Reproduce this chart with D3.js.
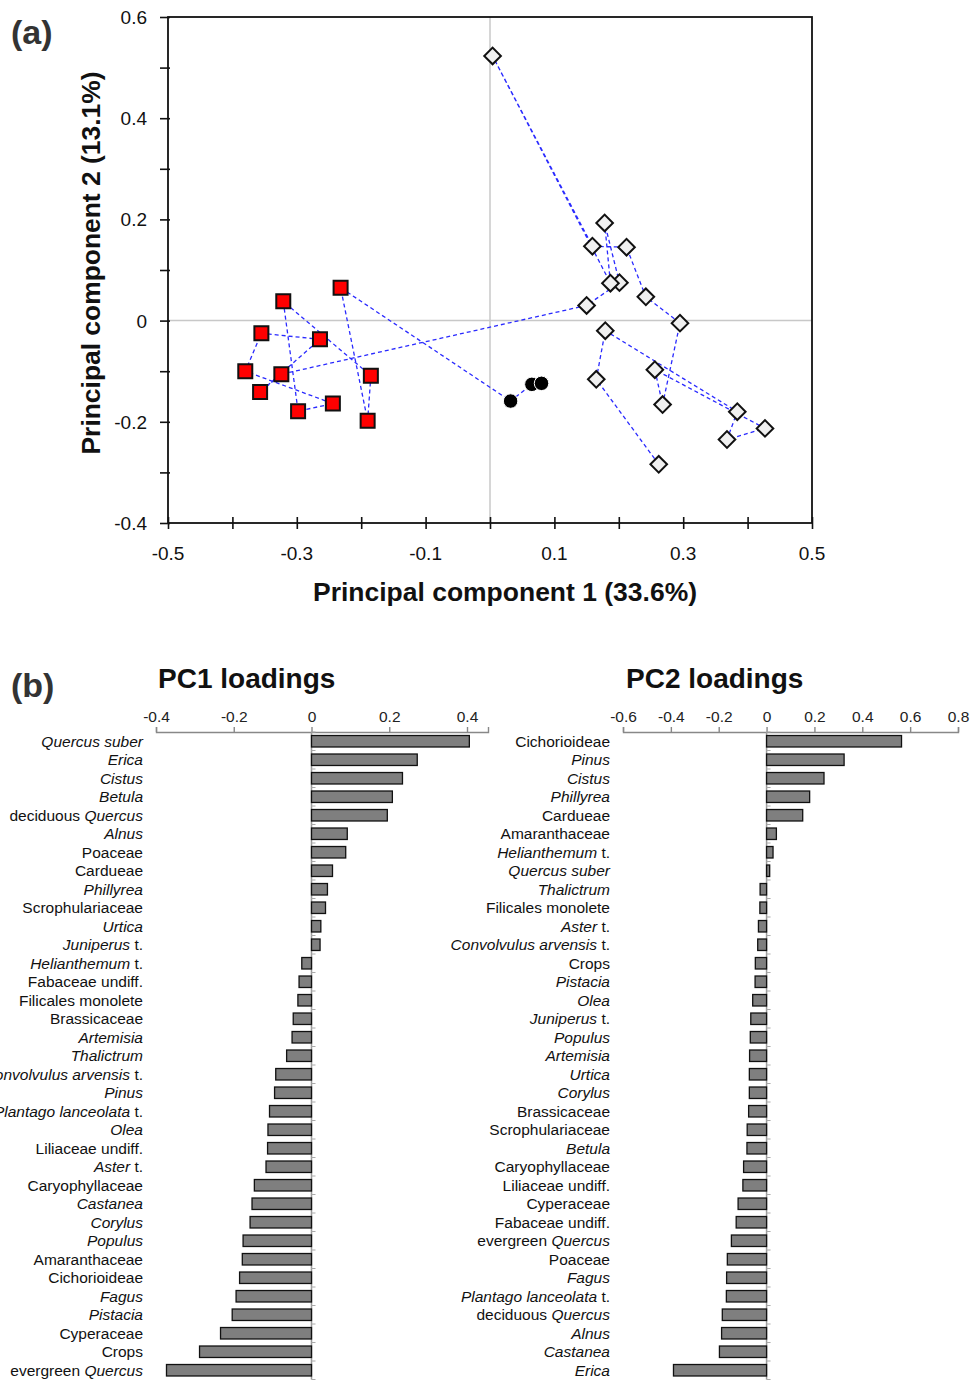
<!DOCTYPE html>
<html>
<head>
<meta charset="utf-8">
<script src="https://cdn.jsdelivr.net/npm/d3@7"></script>
<style>
body { margin: 0; background: #fff; }
svg { display: block; font-family: "Liberation Sans", Arial, sans-serif; }
text { white-space: pre; }
</style>
</head>
<body>
<svg id="chart" width="972" height="1381"></svg>
<script>

// ---- (a) PCA sample scores, in sequence (the dashed line joins consecutive samples)
var sampleGroup = ["diamond","diamond","diamond","diamond","diamond","diamond","diamond","diamond","diamond",
    "diamond","diamond","diamond","diamond","diamond","diamond","diamond","diamond",
    "square","square","square","square","square","square","square","square","square","square","square",
    "circle","circle","circle"];
var pc1Score = [0.262, 0.165, 0.179, 0.384, 0.368, 0.427, 0.256, 0.268, 0.295,
    0.242, 0.212, 0.159, 0.004, 0.187, 0.178, 0.201, 0.150,
    -0.324, -0.357, -0.264, -0.355, -0.380, -0.244, -0.298, -0.321, -0.185, -0.190, -0.232,
    0.032, 0.065, 0.080];
var pc2Score = [-0.284, -0.116, -0.020, -0.180, -0.235, -0.213, -0.097, -0.166, -0.005,
    0.047, 0.145, 0.147, 0.523, 0.074, 0.193, 0.075, 0.030,
    -0.106, -0.141, -0.037, -0.025, -0.100, -0.164, -0.179, 0.038, -0.109, -0.198, 0.065,
    -0.159, -0.126, -0.124];

var xTicksA = [-0.5, -0.3, -0.1, 0.1, 0.3, 0.5];
var yTicksA = [-0.4, -0.2, 0, 0.2, 0.4, 0.6];

// ---- (b) loadings (underscores mark the italic part of a name)
var pc1Taxa = ["_Quercus suber_", "_Erica_", "_Cistus_", "_Betula_", "deciduous _Quercus_", "_Alnus_",
    "Poaceae", "Cardueae", "_Phillyrea_", "Scrophulariaceae", "_Urtica_", "_Juniperus_ t.",
    "_Helianthemum_ t.", "Fabaceae undiff.", "Filicales monolete", "Brassicaceae", "_Artemisia_",
    "_Thalictrum_", "_Convolvulus arvensis_ t.", "_Pinus_", "_Plantago lanceolata_ t.", "_Olea_",
    "Liliaceae undiff.", "_Aster_ t.", "Caryophyllaceae", "_Castanea_", "_Corylus_", "_Populus_",
    "Amaranthaceae", "Cichorioideae", "_Fagus_", "_Pistacia_", "Cyperaceae", "Crops", "evergreen _Quercus_"];
var pc1Loading = [0.406, 0.272, 0.234, 0.208, 0.195, 0.092, 0.088, 0.054, 0.041, 0.036, 0.024, 0.022,
    -0.025, -0.032, -0.035, -0.047, -0.050, -0.064, -0.092, -0.095, -0.108, -0.112, -0.113, -0.117,
    -0.147, -0.153, -0.158, -0.176, -0.178, -0.185, -0.194, -0.204, -0.234, -0.288, -0.373];

var pc2Taxa = ["Cichorioideae", "_Pinus_", "_Cistus_", "_Phillyrea_", "Cardueae", "Amaranthaceae",
    "_Helianthemum_ t.", "_Quercus suber_", "_Thalictrum_", "Filicales monolete", "_Aster_ t.",
    "_Convolvulus arvensis_ t.", "Crops", "_Pistacia_", "_Olea_", "_Juniperus_ t.", "_Populus_",
    "_Artemisia_", "_Urtica_", "_Corylus_", "Brassicaceae", "Scrophulariaceae", "_Betula_",
    "Caryophyllaceae", "Liliaceae undiff.", "Cyperaceae", "Fabaceae undiff.", "evergreen _Quercus_",
    "Poaceae", "_Fagus_", "_Plantago lanceolata_ t.", "deciduous _Quercus_", "_Alnus_", "_Castanea_", "_Erica_"];
var pc2Loading = [0.564, 0.324, 0.240, 0.180, 0.151, 0.041, 0.027, 0.013, -0.027, -0.028, -0.034,
    -0.037, -0.047, -0.048, -0.058, -0.066, -0.068, -0.071, -0.072, -0.072, -0.075, -0.081, -0.082,
    -0.096, -0.099, -0.119, -0.127, -0.147, -0.164, -0.167, -0.168, -0.185, -0.188, -0.197, -0.389];

var pc1Ticks = [-0.4, -0.2, 0, 0.2, 0.4];
var pc2Ticks = [-0.6, -0.4, -0.2, 0, 0.2, 0.4, 0.6, 0.8];

var svg = d3.select("#chart");
var fmt = function(d) { return d === 0 ? "0" : String(+d.toFixed(1)); };

/* ------------------------- panel (a) ------------------------- */
var frame = {left: 168, right: 812, top: 17, bottom: 523};
var x = d3.scaleLinear().domain([-0.5, 0.5]).range([frame.left, frame.right]);
var y = d3.scaleLinear().domain([-0.4, 0.6]).range([frame.bottom, frame.top]);

svg.append("text").attr("x", 11).attr("y", 44)
    .attr("font-size", 34).attr("font-weight", "bold").attr("fill", "#333").text("(a)");

// zero reference lines
svg.append("line").attr("x1", x(0)).attr("x2", x(0)).attr("y1", frame.top).attr("y2", frame.bottom)
    .attr("stroke", "#c8c8c8").attr("stroke-width", 1.5);
svg.append("line").attr("x1", frame.left).attr("x2", frame.right).attr("y1", y(0)).attr("y2", y(0))
    .attr("stroke", "#c8c8c8").attr("stroke-width", 1.5);

// frame
svg.append("rect").attr("x", frame.left).attr("y", frame.top)
    .attr("width", frame.right - frame.left).attr("height", frame.bottom - frame.top)
    .attr("fill", "none").attr("stroke", "#111").attr("stroke-width", 1.8);

// ticks every 0.1, crossing the axis lines
var bottomAxis = d3.axisBottom(x).tickValues(d3.range(-5, 6).map(function(d) { return d / 10; }))
    .tickSize(5).tickFormat("");
var gx = svg.append("g").attr("transform", "translate(0," + frame.bottom + ")").call(bottomAxis);
gx.select(".domain").remove();
gx.selectAll(".tick line").attr("y1", -6).attr("y2", 6).attr("stroke", "#111").attr("stroke-width", 1.6);

var leftAxis = d3.axisLeft(y).tickValues(d3.range(-4, 7).map(function(d) { return d / 10; }))
    .tickSize(8).tickFormat("");
var gy = svg.append("g").attr("transform", "translate(" + frame.left + ",0)").call(leftAxis);
gy.select(".domain").remove();
gy.selectAll(".tick line").attr("x1", -8).attr("x2", 2).attr("stroke", "#111").attr("stroke-width", 1.6);

svg.append("g").selectAll("text").data(xTicksA).enter().append("text")
    .attr("x", function(d) { return x(d); }).attr("y", 560)
    .attr("text-anchor", "middle").attr("font-size", 19).attr("fill", "#111").text(fmt);
svg.append("g").selectAll("text").data(yTicksA).enter().append("text")
    .attr("x", 147).attr("y", function(d) { return y(d) + 7; })
    .attr("text-anchor", "end").attr("font-size", 19).attr("fill", "#111").text(fmt);

svg.append("text").attr("x", 505).attr("y", 601).attr("text-anchor", "middle")
    .attr("font-size", 25).attr("font-weight", "bold").attr("fill", "#111")
    .attr("textLength", 384).attr("lengthAdjust", "spacingAndGlyphs")
    .text("Principal component 1 (33.6%)");
svg.append("text").attr("transform", "translate(100,263) rotate(-90)").attr("text-anchor", "middle")
    .attr("font-size", 25).attr("font-weight", "bold").attr("fill", "#111")
    .attr("textLength", 383).attr("lengthAdjust", "spacingAndGlyphs")
    .text("Principal component 2 (13.1%)");

// trajectory
var idx = d3.range(pc1Score.length);
svg.append("path")
    .datum(idx)
    .attr("d", d3.line().x(function(i) { return x(pc1Score[i]); }).y(function(i) { return y(pc2Score[i]); }))
    .attr("fill", "none").attr("stroke", "#2a2aff").attr("stroke-width", 1.3)
    .attr("stroke-dasharray", "4,3");

// markers (the two overlapping diamonds near (0.19, 0.075) are drawn left one on top)
var drawOrder = idx.slice();
drawOrder.splice(drawOrder.indexOf(13), 1);
drawOrder.splice(drawOrder.indexOf(15) + 1, 0, 13);

var markerSymbol = {
    square: d3.symbol().type(d3.symbolSquare).size(196)(),
    diamond: d3.symbol().type(d3.symbolSquare).size(138)(),
    circle: d3.symbol().type(d3.symbolCircle).size(165)()
};
svg.append("g").selectAll("path").data(drawOrder).enter().append("path")
    .attr("d", function(i) { return markerSymbol[sampleGroup[i]]; })
    .attr("transform", function(i) {
        var t = "translate(" + x(pc1Score[i]) + "," + y(pc2Score[i]) + ")";
        return sampleGroup[i] === "diamond" ? t + " rotate(45)" : t;
    })
    .attr("fill", function(i) {
        return sampleGroup[i] === "square" ? "#ff0000" : sampleGroup[i] === "diamond" ? "#f0f0f0" : "#000";
    })
    .attr("stroke", function(i) { return sampleGroup[i] === "circle" ? "#fff" : "#111"; })
    .attr("stroke-width", function(i) { return sampleGroup[i] === "circle" ? 1 : 2; });

/* ------------------------- panel (b) ------------------------- */
svg.append("text").attr("x", 11).attr("y", 697)
    .attr("font-size", 34).attr("font-weight", "bold").attr("fill", "#333").text("(b)");

function addLabel(sel, label) {
    label.split("_").forEach(function(part, i) {
        if (part) sel.append("tspan").style("font-style", i % 2 ? "italic" : "normal").text(part);
    });
}

function loadingChart(opts) {
    var g = svg.append("g");
    var bx = d3.scaleLinear().domain(opts.domain).range(opts.range);
    var by = d3.scaleBand().domain(opts.taxa).range([732, 732 + 18.5 * opts.taxa.length])
        .paddingInner(0.38).paddingOuter(0.19);

    g.append("text").attr("x", opts.titleX).attr("y", 688)
        .attr("font-size", 28).attr("font-weight", "bold").attr("fill", "#111").text(opts.title);

    // value axis on top
    var top = g.append("g").attr("transform", "translate(0,732)")
        .call(d3.axisTop(bx).tickValues(opts.ticks).tickSize(5).tickPadding(5).tickFormat(fmt));
    top.select(".domain").attr("stroke", "#888").attr("stroke-width", 1.4);
    top.selectAll(".tick line").attr("stroke", "#888").attr("stroke-width", 1.4);
    top.selectAll(".tick text").attr("font-size", 15.5).attr("fill", "#222")
        .attr("font-family", "Liberation Sans, Arial, sans-serif");

    // zero line with small category ticks
    var y0 = by.range()[0], y1 = by.range()[1];
    g.append("line").attr("x1", bx(0)).attr("x2", bx(0)).attr("y1", y0).attr("y2", y1)
        .attr("stroke", "#999").attr("stroke-width", 1.5);
    g.selectAll(".ctick").data(d3.range(opts.taxa.length + 1)).enter().append("line")
        .attr("x1", bx(0)).attr("x2", bx(0) + 4)
        .attr("y1", function(i) { return y0 + i * by.step(); })
        .attr("y2", function(i) { return y0 + i * by.step(); })
        .attr("stroke", "#aaa").attr("stroke-width", 1);

    g.selectAll("rect").data(opts.values).enter().append("rect")
        .attr("x", function(d) { return bx(Math.min(0, d)); })
        .attr("y", function(d, i) { return by(opts.taxa[i]); })
        .attr("width", function(d) { return Math.abs(bx(d) - bx(0)); })
        .attr("height", by.bandwidth())
        .attr("fill", "#7f7f7f").attr("stroke", "#111").attr("stroke-width", 1.3);

    g.selectAll(".lab").data(opts.taxa).enter().append("text")
        .attr("x", opts.labelX)
        .attr("y", function(d) { return by(d) + by.bandwidth() / 2 + 5.5; })
        .attr("text-anchor", "end").attr("font-size", 15.5).attr("fill", "#111")
        .each(function(d) { addLabel(d3.select(this), d); });
}

loadingChart({title: "PC1 loadings", titleX: 158, taxa: pc1Taxa, values: pc1Loading,
    domain: [-0.4, 0.454], range: [156, 488], ticks: pc1Ticks, labelX: 143});
loadingChart({title: "PC2 loadings", titleX: 626, taxa: pc2Taxa, values: pc2Loading,
    domain: [-0.6, 0.8], range: [623, 958], ticks: pc2Ticks, labelX: 610});

</script>
</body>
</html>
